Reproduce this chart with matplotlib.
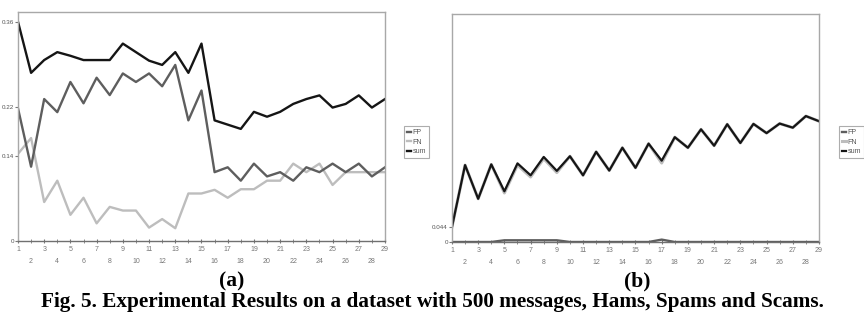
import matplotlib.pyplot as plt
import numpy as np

# runs 1..29
runs = np.arange(1, 30)

# (a) values
fp_a = [0.218, 0.122, 0.233, 0.2115, 0.261, 0.226, 0.268, 0.2395, 0.275, 0.261,
        0.275, 0.254, 0.289, 0.198, 0.247, 0.113, 0.121, 0.099, 0.127, 0.106,
        0.113, 0.099, 0.121, 0.113, 0.127, 0.113, 0.127, 0.106, 0.121]
fn_a = [0.143, 0.169, 0.064, 0.099, 0.043, 0.071, 0.029, 0.056, 0.050, 0.050,
        0.022, 0.036, 0.021, 0.078, 0.078, 0.084, 0.071, 0.085, 0.085, 0.099,
        0.099, 0.127, 0.113, 0.127, 0.092, 0.113, 0.113, 0.113, 0.113]
sum_a = [0.360, 0.276, 0.297, 0.310, 0.304, 0.297, 0.297, 0.297, 0.324, 0.310,
         0.296, 0.289, 0.310, 0.276, 0.324, 0.198, 0.191, 0.184, 0.212, 0.204,
         0.212, 0.225, 0.233, 0.239, 0.219, 0.225, 0.239, 0.219, 0.233]

# (b)
fp_b = [0.0, 0.0, 0.0, 0.0, 0.005, 0.005, 0.005, 0.005, 0.005, 0.0,
        0.0, 0.0, 0.0, 0.0, 0.0, 0.0, 0.007, 0.0, 0.0, 0.0,
        0.0, 0.0, 0.0, 0.0, 0.0, 0.0, 0.0, 0.0, 0.0]
sum_b = [0.044, 0.226, 0.127, 0.228, 0.149, 0.231, 0.196, 0.250, 0.209, 0.252,
         0.196, 0.265, 0.210, 0.277, 0.218, 0.289, 0.239, 0.308, 0.277, 0.331,
         0.283, 0.346, 0.291, 0.347, 0.320, 0.348, 0.336, 0.370, 0.355]
fn_b = [s - f for s, f in zip(sum_b, fp_b)]

yt_a = [0, 0.14, 0.22, 0.36]
yl_a = ['0', '0.14', '0.22', '0.36']
yt_b = [0, 0.044]
yl_b = ['0', '0.044']

c_sum = '#151515'
c_fp = '#5e5e5e'
c_fn = '#bdbdbd'
frame = '#a8a8a8'
tick_font = 'Liberation Sans'

fig = plt.figure(figsize=(8.64, 3.16), dpi=100)
ax1 = fig.add_axes([0.0208, 0.2373, 0.4248, 0.725])
ax2 = fig.add_axes([0.5231, 0.2342, 0.4248, 0.7215])


def style(ax, yt, yl, ytop):
    ax.set_xlim(1, 29)
    ax.set_ylim(0, ytop)
    for s in ax.spines.values():
        s.set_color(frame)
        s.set_linewidth(1.0)
    ax.spines['bottom'].set_color('#707070')
    ax.set_xticks(runs[::2])
    ax.set_xticklabels([str(i) for i in runs[::2]])
    ax.set_xticks(runs[1::2], minor=True)
    ax.set_xticklabels([str(i) for i in runs[1::2]], minor=True)
    ax.tick_params(axis='x', which='major', length=2.5, pad=2.5, labelsize=5,
                   labelcolor='#777777', color='#777777', direction='inout')
    ax.tick_params(axis='x', which='minor', length=2.5, pad=11, labelsize=5,
                   labelcolor='#777777', color='#777777', direction='inout')
    ax.set_yticks(yt)
    ax.set_yticklabels(yl)
    ax.tick_params(axis='y', length=2, pad=1, labelsize=4.5,
                   labelcolor='#555555', color='#777777')
    for t in ax.get_xticklabels(which='both') + ax.get_yticklabels():
        t.set_family(tick_font)


ax1.plot(runs, fn_a, color=c_fn, lw=1.7, label='FN')
ax1.plot(runs, fp_a, color=c_fp, lw=1.7, label='FP')
ax1.plot(runs, sum_a, color=c_sum, lw=1.7, label='sum')
style(ax1, yt_a, yl_a, 0.376)

ax2.plot(runs, fn_b, color=c_fn, lw=2.2, label='FN')
ax2.plot(runs, fp_b, color=c_fp, lw=1.7, label='FP')
ax2.plot(runs, sum_b, color=c_sum, lw=1.6, label='sum')
style(ax2, yt_b, yl_b, 0.67)

# legends
for ax, x0 in [(ax1, 404 / 864), (ax2, 839 / 864)]:
    h, l = ax.get_legend_handles_labels()
    order = [l.index('FP'), l.index('FN'), l.index('sum')]
    leg = fig.legend([h[i] for i in order], [l[i] for i in order],
                     loc='upper left', bbox_to_anchor=(x0, 1 - 126 / 316),
                     prop={'family': tick_font, 'size': 5},
                     handlelength=0.5, handletextpad=0.3,
                     borderpad=0.45, labelspacing=0.35, fancybox=False,
                     frameon=True, borderaxespad=0)
    leg.get_frame().set_edgecolor('#999999')
    leg.get_frame().set_linewidth(0.8)
    for t in leg.get_texts():
        t.set_color('#555555')

fig.text(232 / 864, 1 - 281 / 316, '(a)', ha='center', va='center',
         family='Liberation Serif', weight='bold', fontsize=15.5)
fig.text(637 / 864, 1 - 281 / 316, '(b)', ha='center', va='center',
         family='Liberation Serif', weight='bold', fontsize=15.5)
fig.text(432 / 864, 1 - 302 / 316,
         'Fig. 5. Experimental Results on a dataset with 500 messages, Hams, Spams and Scams.',
         ha='center', va='center', family='Liberation Serif', weight='bold',
         fontsize=15.3)

fig.savefig('out.png', dpi=100)
plt.close()
